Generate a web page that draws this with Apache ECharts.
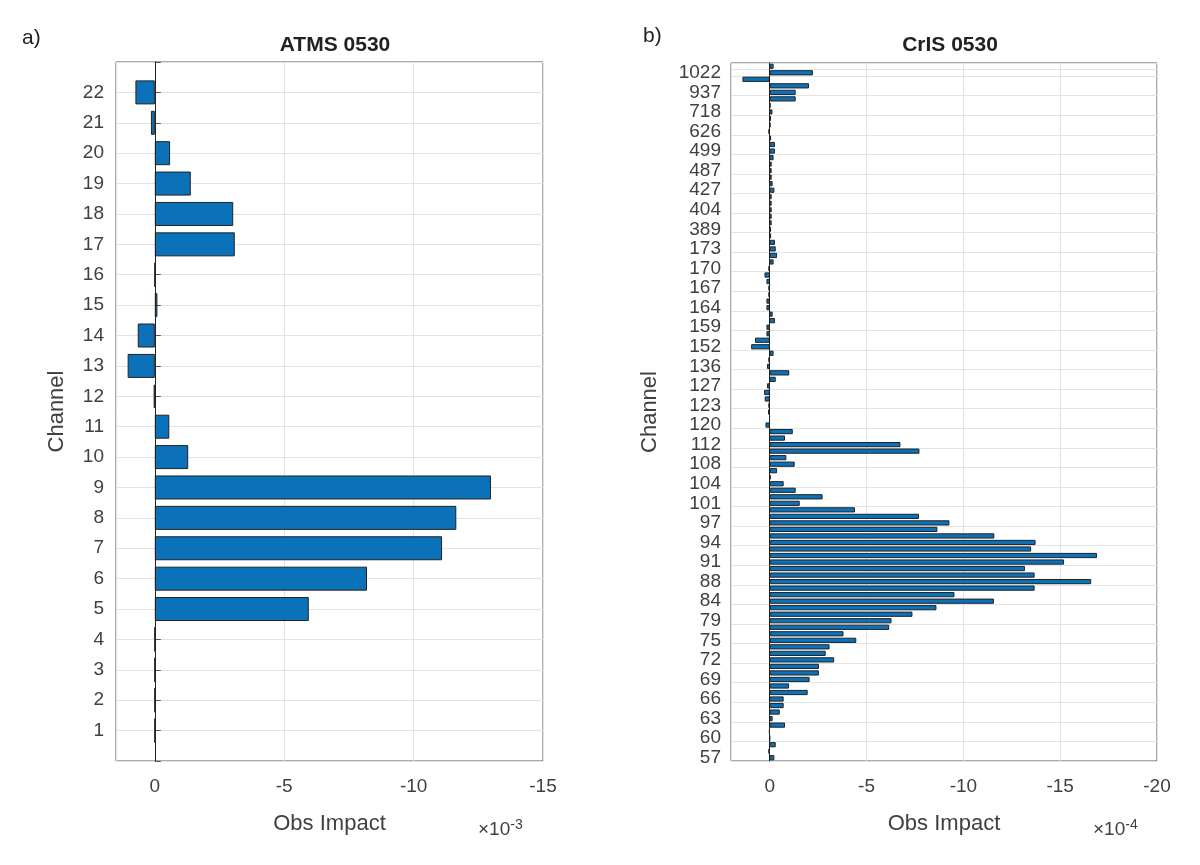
<!DOCTYPE html>
<html lang="en">
<head>
    <meta charset="UTF-8">
    <title>ATMS / CrIS 0530</title>
    <style>body{margin:0;background:#fff;}</style>
</head>
<body>
    <div id="card" style="width:1200px;height:865px;"></div>
    <script src="https://cdn.jsdelivr.net/npm/echarts@6/dist/echarts.min.js"></script>
    <script>
        // ATMS channels 1..22, impact in 1e-3
        var atmsChannels = ['1','2','3','4','5','6','7','8','9','10','11','12','13','14','15','16','17','18','19','20','21','22'];
        var atmsValues = [0, 0, 0, 0, -5.95, -8.2, -11.1, -11.65, -12.99, -1.29, -0.56, 0.04, 1.05, 0.66, -0.1, 0, -3.09, -3.03, -1.39, -0.59, 0.15, 0.75];

        // CrIS: tick labels shown on every 3rd bar, impact in 1e-4
        var crisTickLabels = ['57','60','63','66','69','72','75','79','84','88','91','94','97','101','104','108','112','120','123','127','136','152','159','164','167','170','173','389','404','427','487','499','626','718','937','1022'];
        var crisValues = [
            -0.24, 0.07, -0.31, 0, 0.03, -0.79, -0.15, -0.52, -0.72, -0.72,
            -1.96, -1.0, -2.06, -2.54, -2.54, -3.33, -2.89, -3.09, -4.47, -3.81,
            -6.17, -6.29, -7.37, -8.61, -11.58, -9.54, -13.68, -16.6, -13.68, -13.18,
            -15.2, -16.9, -13.5, -13.73, -11.6, -8.66, -9.28, -7.71, -4.40, -1.55,
            -2.73, -1.34, -0.72, -0.05, -0.38, -1.29, -0.86, -7.73, -6.75, -0.79,
            -1.19, 0.22, 0.02, 0.09, 0.07, 0.26, 0.29, 0.14, -0.31, -1.01,
            0.14, 0.07, -0.2, 0.96, 0.76, 0.17, 0.17, -0.27, -0.15, 0.17,
            0.17, 0.07, 0.07, 0.17, 0.27, 0.07, -0.2, -0.38, -0.31, -0.27,
            -0.07, -0.07, -0.1, -0.1, -0.1, -0.1, -0.1, -0.24, -0.15, -0.1,
            -0.1, -0.1, -0.2, -0.27, -0.27, -0.07, 0.07, -0.03, -0.07, -0.14,
            -0.03, -1.34, -1.34, -2.03, 1.41, -2.23, -0.2
        ];

        var txt = '#404040';
        var font = 'Liberation Sans, Arial, sans-serif';
        var atmsCats = [''].concat(atmsChannels, ['']);
        var atmsData = [null].concat(atmsValues, [null]);
        var crisCats = crisValues.map(function (v, i) { return String(i); });

        function xAxisOf(idx, min, max) {
            return {
                gridIndex: idx, type: 'value', inverse: true, min: min, max: max, interval: 5,
                name: 'Obs Impact', nameLocation: 'middle', nameGap: 52,
                nameTextStyle: { fontSize: 22, color: txt, fontFamily: font },
                axisLine: { lineStyle: { color: '#555' } },
                axisTick: { inside: true, length: 6, lineStyle: { color: '#555' } },
                axisLabel: { fontSize: 19, color: txt, fontFamily: font, margin: 16,
                    formatter: function (v) { return v % 5 === 0 ? String(v) : ''; } },
                splitLine: { lineStyle: { color: '#e3e3e3' } }
            };
        }

        var option = {
            backgroundColor: '#fff',
            animation: false,
            title: [
                { text: 'ATMS 0530', left: 330, top: 30, textAlign: 'center',
                  textStyle: { fontSize: 21, fontWeight: 'bold', color: '#222', fontFamily: font } },
                { text: 'CrIS 0530', left: 945, top: 30, textAlign: 'center',
                  textStyle: { fontSize: 21, fontWeight: 'bold', color: '#222', fontFamily: font } }
            ],
            graphic: [
                { type: 'text', left: 22, top: 28, style: { text: 'a)', fontSize: 21, fill: '#222', fontFamily: font } },
                { type: 'text', left: 643, top: 26, style: { text: 'b)', fontSize: 21, fill: '#222', fontFamily: font } },
                { type: 'text', left: 478, top: 818, style: { text: '×10{s|-3}', fontSize: 19, fill: txt, fontFamily: font,
                    rich: { s: { fontSize: 14, verticalAlign: 'top', padding: [0, 0, 10, 0], fill: txt } } } },
                { type: 'text', left: 1093, top: 818, style: { text: '×10{s|-4}', fontSize: 19, fill: txt, fontFamily: font,
                    rich: { s: { fontSize: 14, verticalAlign: 'top', padding: [0, 0, 10, 0], fill: txt } } } }
            ],
            grid: [
                { left: 116, top: 62, width: 427, height: 699, show: true, borderColor: '#555', borderWidth: 1 },
                { left: 731, top: 63, width: 426, height: 698, show: true, borderColor: '#555', borderWidth: 1 }
            ],
            xAxis: [xAxisOf(0, -15, 1.5), xAxisOf(1, -20, 2)],
            yAxis: [
                {
                    gridIndex: 0, type: 'category', data: atmsCats, boundaryGap: false,
                    name: 'Channel', nameLocation: 'middle', nameGap: 48, nameRotate: 90,
                    nameTextStyle: { fontSize: 22, color: txt, fontFamily: font },
                    axisLine: { lineStyle: { color: '#555' } },
                    axisTick: { inside: true, length: 6, lineStyle: { color: '#555' } },
                    axisLabel: { fontSize: 19, color: txt, fontFamily: font, margin: 12 },
                    splitLine: { show: true, lineStyle: { color: '#e3e3e3' } }
                },
                {
                    gridIndex: 1, type: 'category', data: crisCats,
                    name: 'Channel', nameLocation: 'middle', nameGap: 70, nameRotate: 90,
                    nameTextStyle: { fontSize: 22, color: txt, fontFamily: font },
                    axisLine: { lineStyle: { color: '#555' } },
                    axisTick: { inside: true, length: 6, alignWithLabel: true, interval: 2, lineStyle: { color: '#555' } },
                    axisLabel: { fontSize: 19, color: txt, fontFamily: font, margin: 10, interval: 0,
                        formatter: function (v, i) { return i % 3 === 0 ? crisTickLabels[i / 3] : ''; } },
                    splitLine: { show: true, interval: 2, lineStyle: { color: '#e3e3e3' } }
                }
            ],
            series: [
                { type: 'bar', xAxisIndex: 0, yAxisIndex: 0, data: atmsData, barWidth: 24,
                  itemStyle: { color: '#0b72ba', borderColor: '#222', borderWidth: 1 } },
                { type: 'bar', xAxisIndex: 1, yAxisIndex: 1, data: crisValues, barWidth: '80%',
                  itemStyle: { color: '#0b72ba', borderColor: '#222', borderWidth: 1 } },
                // zero reference lines
                { type: 'line', xAxisIndex: 0, yAxisIndex: 0, data: [], markLine: { silent: true, symbol: 'none', label: { show: false },
                  lineStyle: { color: '#222', type: 'solid', width: 1 }, data: [{ xAxis: 0 }] } },
                { type: 'line', xAxisIndex: 1, yAxisIndex: 1, data: [], markLine: { silent: true, symbol: 'none', label: { show: false },
                  lineStyle: { color: '#222', type: 'solid', width: 1 }, data: [{ xAxis: 0 }] } }
            ]
        };

        var myChart = echarts.init(document.querySelector('#card'));
        myChart.setOption(option);
    </script>
</body>
</html>
